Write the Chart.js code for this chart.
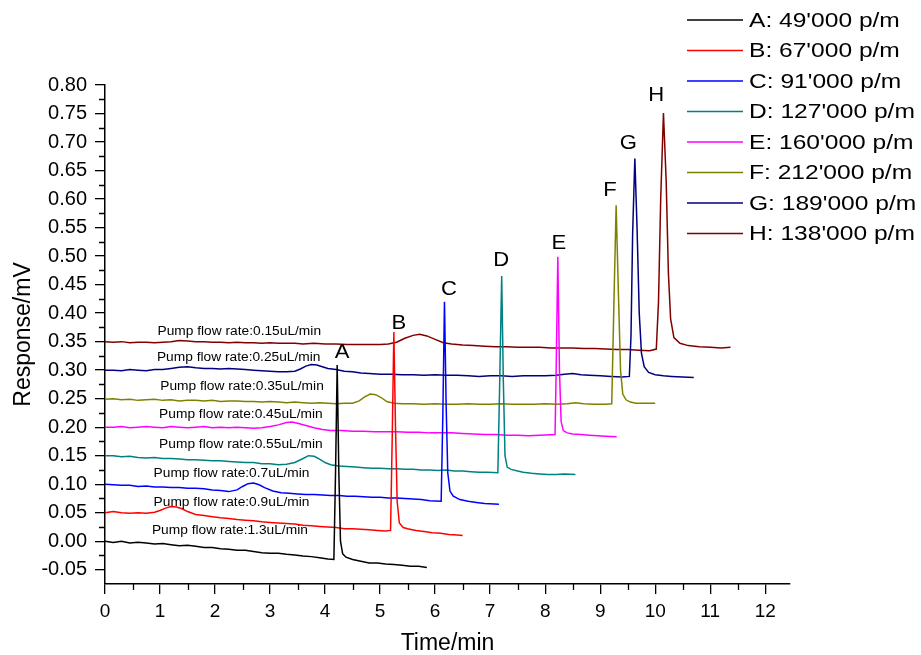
<!DOCTYPE html>
<html lang="en">
<head>
<meta charset="UTF-8">
<title>Chromatograms at different pump flow rates</title>
<script src="https://cdn.jsdelivr.net/npm/chart.js"></script>
<style>
  body { margin: 0; background: #fff; }
  canvas { display: block; }
</style>
</head>
<body>
<canvas id="chart" width="921" height="655"></canvas>
<script>
// [time (min), response (mV)]
const seriesA = [[0,0.000],[0.15,-0.002],[0.3,0.000],[0.45,-0.003],[0.6,-0.002],[0.75,-0.003],[0.9,-0.005],[1.05,-0.004],[1.2,-0.006],[1.35,-0.008],[1.5,-0.007],[1.65,-0.009],[1.8,-0.011],[1.95,-0.011],[2.1,-0.013],[2.25,-0.014],[2.4,-0.016],[2.55,-0.016],[2.7,-0.018],[2.85,-0.020],[3.0,-0.021],[3.15,-0.021],[3.3,-0.023],[3.45,-0.024],[3.6,-0.026],[3.75,-0.027],[3.9,-0.029],[4.05,-0.031],[4.16,-0.032],[4.19,0.12],[4.22,0.309],[4.25,0.12],[4.28,0.0],[4.32,-0.022],[4.38,-0.028],[4.5,-0.032],[4.65,-0.035],[4.8,-0.038],[4.95,-0.038],[5.1,-0.040],[5.25,-0.041],[5.4,-0.042],[5.55,-0.044],[5.7,-0.044],[5.85,-0.046]];
const seriesB = [[0,0.050],[0.15,0.052],[0.3,0.050],[0.45,0.049],[0.6,0.050],[0.75,0.049],[0.9,0.051],[1.0,0.054],[1.1,0.058],[1.2,0.061],[1.3,0.060],[1.4,0.057],[1.5,0.052],[1.65,0.047],[1.8,0.045],[1.95,0.043],[2.1,0.041],[2.25,0.040],[2.4,0.038],[2.55,0.037],[2.7,0.036],[2.85,0.034],[3.0,0.033],[3.15,0.032],[3.3,0.031],[3.45,0.030],[3.6,0.028],[3.75,0.027],[3.9,0.026],[4.05,0.025],[4.2,0.024],[4.35,0.022],[4.5,0.022],[4.65,0.021],[4.8,0.020],[4.95,0.019],[5.1,0.018],[5.19,0.019],[5.22,0.18],[5.25,0.367],[5.28,0.20],[5.31,0.07],[5.35,0.032],[5.42,0.024],[5.5,0.022],[5.65,0.019],[5.8,0.017],[5.95,0.015],[6.1,0.014],[6.25,0.012],[6.4,0.011],[6.5,0.010]];
const seriesC = [[0,0.100],[0.15,0.099],[0.3,0.098],[0.45,0.098],[0.6,0.096],[0.75,0.097],[0.9,0.095],[1.05,0.095],[1.2,0.094],[1.35,0.094],[1.5,0.093],[1.65,0.093],[1.8,0.092],[1.95,0.090],[2.1,0.089],[2.25,0.087],[2.4,0.090],[2.5,0.096],[2.6,0.101],[2.7,0.102],[2.8,0.099],[2.9,0.094],[3.05,0.088],[3.2,0.085],[3.35,0.084],[3.5,0.083],[3.65,0.082],[3.8,0.082],[3.95,0.081],[4.1,0.080],[4.25,0.080],[4.4,0.079],[4.55,0.079],[4.7,0.078],[4.85,0.077],[5.0,0.077],[5.15,0.076],[5.3,0.076],[5.45,0.075],[5.6,0.074],[5.75,0.073],[5.9,0.071],[6.11,0.070],[6.14,0.22],[6.17,0.42],[6.2,0.24],[6.23,0.12],[6.27,0.088],[6.33,0.079],[6.45,0.073],[6.6,0.070],[6.75,0.068],[6.9,0.066],[7.16,0.065]];
const seriesD = [[0,0.150],[0.15,0.150],[0.3,0.148],[0.45,0.149],[0.6,0.147],[0.75,0.146],[0.9,0.147],[1.05,0.145],[1.2,0.145],[1.35,0.144],[1.5,0.143],[1.65,0.143],[1.8,0.142],[1.95,0.141],[2.1,0.141],[2.25,0.140],[2.4,0.139],[2.55,0.138],[2.7,0.138],[2.85,0.136],[3.0,0.136],[3.15,0.134],[3.3,0.135],[3.45,0.138],[3.6,0.145],[3.7,0.150],[3.8,0.149],[3.9,0.144],[4.0,0.138],[4.1,0.134],[4.25,0.132],[4.4,0.131],[4.55,0.130],[4.7,0.129],[4.85,0.128],[5.0,0.128],[5.15,0.127],[5.3,0.127],[5.45,0.126],[5.6,0.126],[5.75,0.125],[5.9,0.125],[6.05,0.124],[6.2,0.125],[6.35,0.123],[6.5,0.123],[6.65,0.122],[6.8,0.121],[6.95,0.121],[7.14,0.120],[7.17,0.26],[7.21,0.465],[7.24,0.28],[7.27,0.15],[7.31,0.130],[7.38,0.126],[7.5,0.123],[7.6,0.121],[7.75,0.119],[7.9,0.118],[8.05,0.117],[8.2,0.117],[8.35,0.118],[8.55,0.117]];
const seriesE = [[0,0.200],[0.15,0.200],[0.3,0.201],[0.45,0.199],[0.6,0.200],[0.75,0.201],[0.9,0.200],[1.05,0.199],[1.2,0.201],[1.35,0.200],[1.5,0.199],[1.65,0.200],[1.8,0.201],[1.95,0.199],[2.1,0.200],[2.25,0.199],[2.4,0.200],[2.55,0.199],[2.7,0.198],[2.85,0.199],[3.0,0.201],[3.15,0.204],[3.3,0.208],[3.4,0.209],[3.5,0.207],[3.65,0.203],[3.8,0.199],[3.95,0.196],[4.1,0.194],[4.3,0.194],[4.5,0.193],[4.7,0.193],[4.9,0.192],[5.1,0.192],[5.3,0.192],[5.5,0.191],[5.7,0.191],[5.9,0.190],[6.1,0.190],[6.3,0.190],[6.5,0.189],[6.7,0.188],[6.9,0.187],[7.1,0.187],[7.3,0.186],[7.5,0.186],[7.7,0.185],[7.9,0.186],[8.18,0.187],[8.2,0.30],[8.23,0.499],[8.26,0.30],[8.29,0.21],[8.33,0.194],[8.4,0.190],[8.5,0.188],[8.65,0.187],[8.8,0.186],[8.95,0.185],[9.1,0.184],[9.3,0.183]];
const seriesF = [[0,0.249],[0.15,0.250],[0.3,0.248],[0.45,0.249],[0.6,0.247],[0.75,0.248],[0.9,0.249],[1.05,0.247],[1.2,0.248],[1.35,0.246],[1.5,0.247],[1.65,0.247],[1.8,0.246],[1.95,0.247],[2.1,0.245],[2.25,0.246],[2.4,0.246],[2.55,0.245],[2.7,0.245],[2.85,0.244],[3.0,0.245],[3.15,0.244],[3.3,0.243],[3.45,0.244],[3.6,0.243],[3.75,0.242],[3.9,0.243],[4.05,0.242],[4.2,0.241],[4.35,0.242],[4.5,0.242],[4.62,0.246],[4.72,0.253],[4.82,0.258],[4.92,0.257],[5.02,0.252],[5.12,0.245],[5.25,0.242],[5.4,0.241],[5.6,0.241],[5.8,0.240],[6.0,0.241],[6.2,0.240],[6.4,0.240],[6.6,0.241],[6.8,0.240],[7.0,0.240],[7.2,0.241],[7.4,0.240],[7.6,0.240],[7.8,0.240],[8.0,0.241],[8.2,0.240],[8.4,0.241],[8.55,0.243],[8.7,0.241],[8.9,0.240],[9.1,0.240],[9.21,0.241],[9.25,0.42],[9.29,0.589],[9.33,0.44],[9.37,0.30],[9.41,0.258],[9.47,0.248],[9.55,0.244],[9.65,0.242],[9.8,0.242],[10.0,0.242]];
const seriesG = [[0,0.300],[0.15,0.300],[0.3,0.299],[0.45,0.301],[0.6,0.300],[0.75,0.299],[0.9,0.301],[1.05,0.301],[1.2,0.303],[1.35,0.305],[1.5,0.306],[1.65,0.304],[1.8,0.303],[1.95,0.303],[2.1,0.302],[2.25,0.303],[2.4,0.302],[2.55,0.301],[2.7,0.300],[2.85,0.299],[3.0,0.298],[3.15,0.297],[3.3,0.297],[3.45,0.298],[3.55,0.302],[3.65,0.307],[3.75,0.310],[3.85,0.309],[3.95,0.306],[4.05,0.303],[4.2,0.301],[4.35,0.298],[4.5,0.297],[4.65,0.295],[4.8,0.294],[5.0,0.293],[5.2,0.293],[5.4,0.292],[5.6,0.292],[5.8,0.291],[6.0,0.292],[6.2,0.291],[6.4,0.291],[6.6,0.290],[6.8,0.289],[7.0,0.290],[7.2,0.290],[7.4,0.289],[7.6,0.290],[7.8,0.290],[8.0,0.290],[8.2,0.291],[8.35,0.293],[8.5,0.294],[8.65,0.292],[8.8,0.291],[9.0,0.290],[9.2,0.289],[9.4,0.288],[9.53,0.289],[9.56,0.36],[9.59,0.54],[9.63,0.671],[9.67,0.55],[9.71,0.40],[9.75,0.33],[9.8,0.306],[9.88,0.296],[10.0,0.292],[10.15,0.290],[10.3,0.289],[10.5,0.288],[10.7,0.287]];
const seriesH = [[0,0.350],[0.15,0.349],[0.3,0.350],[0.45,0.348],[0.6,0.349],[0.75,0.349],[0.9,0.348],[1.05,0.349],[1.2,0.350],[1.35,0.352],[1.5,0.351],[1.65,0.350],[1.8,0.350],[1.95,0.349],[2.1,0.349],[2.25,0.348],[2.4,0.349],[2.55,0.348],[2.7,0.348],[2.85,0.347],[3.0,0.348],[3.15,0.347],[3.3,0.347],[3.45,0.347],[3.6,0.346],[3.8,0.347],[4.0,0.346],[4.2,0.346],[4.4,0.345],[4.6,0.345],[4.8,0.345],[5.0,0.345],[5.15,0.346],[5.3,0.349],[5.45,0.356],[5.6,0.361],[5.72,0.363],[5.85,0.360],[6.0,0.354],[6.15,0.348],[6.3,0.346],[6.5,0.344],[6.7,0.343],[6.9,0.342],[7.1,0.341],[7.3,0.341],[7.5,0.340],[7.7,0.340],[7.9,0.340],[8.1,0.339],[8.3,0.339],[8.5,0.339],[8.7,0.338],[8.9,0.338],[9.1,0.337],[9.3,0.336],[9.5,0.336],[9.7,0.335],[9.9,0.334],[10.02,0.337],[10.06,0.42],[10.1,0.60],[10.15,0.751],[10.2,0.63],[10.24,0.47],[10.28,0.39],[10.34,0.357],[10.45,0.347],[10.6,0.343],[10.8,0.341],[11.0,0.340],[11.2,0.339],[11.37,0.340]];

const seriesData = [seriesA, seriesB, seriesC, seriesD, seriesE, seriesF, seriesG, seriesH];
const seriesNames = ["A: 49'000 p/m", "B: 67'000 p/m", "C: 91'000 p/m", "D: 127'000 p/m",
                     "E: 160'000 p/m", "F: 212'000 p/m", "G: 189'000 p/m", "H: 138'000 p/m"];
const seriesColors = ['#000000', '#ff0000', '#0000ff', '#008080', '#ff00ff', '#808000', '#000080', '#800000'];

// axis tick values
const xTickValues = [0, 1, 2, 3, 4, 5, 6, 7, 8, 9, 10, 11, 12];
const yTickValues = [-0.05, 0, 0.05, 0.1, 0.15, 0.2, 0.25, 0.3, 0.35, 0.4, 0.45, 0.5, 0.55, 0.6, 0.65, 0.7, 0.75, 0.8];

// peak letters, placed in data units above each peak
const peakLetters = ['A', 'B', 'C', 'D', 'E', 'F', 'G', 'H'];
const peakLetterTimes = [4.31, 5.34, 6.25, 7.2, 8.25, 9.18, 9.51, 10.02];
const peakLetterValues = [0.332, 0.382, 0.442, 0.493, 0.523, 0.616, 0.698, 0.782];

// flow-rate captions over each baseline
const flowLabels = ['Pump flow rate:1.3uL/min', 'Pump flow rate:0.9uL/min', 'Pump flow rate:0.7uL/min',
                    'Pump flow rate:0.55uL/min', 'Pump flow rate:0.45uL/min', 'Pump flow rate:0.35uL/min',
                    'Pump flow rate:0.25uL/min', 'Pump flow rate:0.15uL/min'];
const flowLabelTimes = [2.27, 2.30, 2.30, 2.47, 2.47, 2.49, 2.43, 2.44];
const flowLabelValues = [0.018, 0.068, 0.119, 0.170, 0.223, 0.271, 0.322, 0.367];

const FONT = "'Liberation Sans', Arial, sans-serif";

// the source figure is a little wider than tall, so its text is slightly stretched
function wideText(ctx, text, x, y, stretch) {
    ctx.save();
    ctx.translate(x, y);
    ctx.scale(stretch, 1);
    ctx.fillText(text, 0, 0);
    ctx.restore();
}

const extras = {
    id: 'extras',
    afterDraw(chart) {
        const ctx = chart.ctx;
        const xs = chart.scales.x, ys = chart.scales.y;
        const area = chart.chartArea;
        ctx.save();

        // minor ticks halfway between the major ones
        ctx.strokeStyle = '#000';
        ctx.lineWidth = 1.3;
        ctx.beginPath();
        for (let i = 0; i < xTickValues.length - 1; i++) {
            const px = Math.round(xs.getPixelForValue((xTickValues[i] + xTickValues[i + 1]) / 2)) + 0.5;
            ctx.moveTo(px, area.bottom);
            ctx.lineTo(px, area.bottom + 6);
        }
        for (let i = 0; i < yTickValues.length - 1; i++) {
            const py = Math.round(ys.getPixelForValue((yTickValues[i] + yTickValues[i + 1]) / 2)) + 0.5;
            ctx.moveTo(area.left, py);
            ctx.lineTo(area.left - 6, py);
        }
        ctx.stroke();

        ctx.fillStyle = '#000';
        ctx.textAlign = 'center';
        ctx.textBaseline = 'middle';

        // peak letters
        ctx.font = '21px ' + FONT;
        peakLetters.forEach((s, i) => {
            wideText(ctx, s, xs.getPixelForValue(peakLetterTimes[i]), ys.getPixelForValue(peakLetterValues[i]), 1.05);
        });

        // flow captions
        ctx.font = '12.5px ' + FONT;
        flowLabels.forEach((s, i) => {
            wideText(ctx, s, xs.getPixelForValue(flowLabelTimes[i]), ys.getPixelForValue(flowLabelValues[i]), 1.1);
        });

        // legend, top right
        ctx.textAlign = 'left';
        ctx.font = '21px ' + FONT;
        seriesNames.forEach((name, i) => {
            const y = 20 + i * 30.5;
            ctx.strokeStyle = seriesColors[i];
            ctx.lineWidth = 1.5;
            ctx.beginPath();
            ctx.moveTo(687, y);
            ctx.lineTo(743, y);
            ctx.stroke();
            wideText(ctx, name, 749, y + 1, 1.17);
        });
        ctx.restore();
    }
};

new Chart(document.getElementById('chart'), {
    type: 'line',
    data: {
        datasets: seriesData.map((s, i) => ({
            label: seriesNames[i],
            data: s.map(p => ({ x: p[0], y: p[1] })),
            borderColor: seriesColors[i],
            borderWidth: 1.5,
            pointRadius: 0,
            tension: 0,
            fill: false
        }))
    },
    options: {
        responsive: false,
        animation: false,
        devicePixelRatio: 1,
        layout: { padding: { top: 85, right: 131, bottom: 0, left: 0 } },
        plugins: { legend: { display: false }, tooltip: { enabled: false } },
        scales: {
            x: {
                type: 'linear',
                min: 0,
                max: 12.45,
                afterFit: s => { s.height = 71; },
                afterBuildTicks: s => { s.ticks = xTickValues.map(v => ({ value: v })); },
                ticks: { color: '#000', font: { family: FONT, size: 19 }, padding: 6, maxRotation: 0, autoSkip: false },
                grid: { drawOnChartArea: false, drawTicks: true, tickLength: 10, color: '#000', lineWidth: 1.3 },
                border: { display: true, color: '#000', width: 1.5 },
                title: { display: true, text: 'Time/min', color: '#000', font: { family: FONT, size: 23, lineHeight: 1 }, padding: { top: 0, bottom: 0 } }
            },
            y: {
                min: -0.075,
                max: 0.8,
                afterFit: s => { s.width = 105; },
                afterBuildTicks: s => { s.ticks = yTickValues.map(v => ({ value: v })); },
                ticks: { color: '#000', font: { family: FONT, size: 20 }, padding: 8, autoSkip: false,
                         callback: v => v.toFixed(2) },
                grid: { drawOnChartArea: false, drawTicks: true, tickLength: 10, color: '#000', lineWidth: 1.3 },
                border: { display: true, color: '#000', width: 1.5 },
                title: { display: true, text: 'Response/mV', color: '#000', font: { family: FONT, size: 23, lineHeight: 1 }, padding: { top: 12, bottom: 0 } }
            }
        }
    },
    plugins: [extras]
});
</script>
</body>
</html>
